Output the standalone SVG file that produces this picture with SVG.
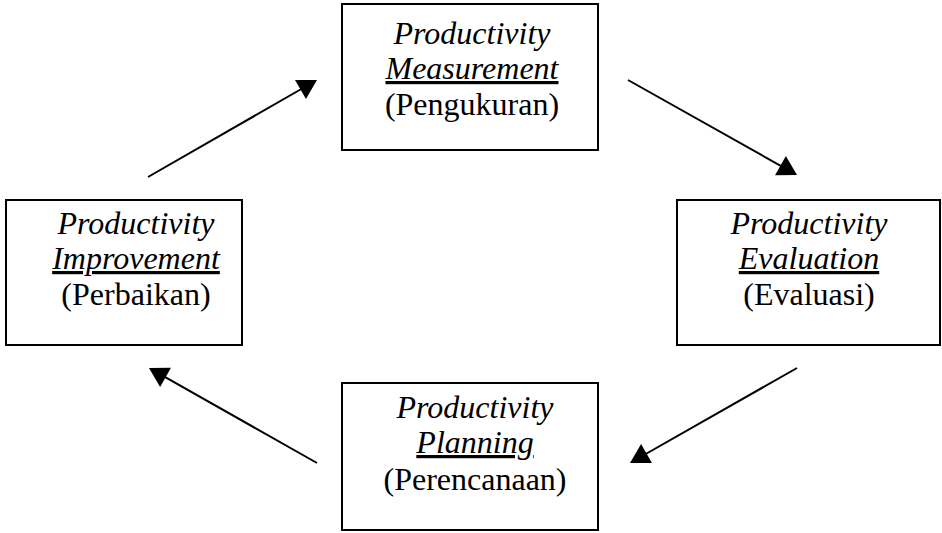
<svg xmlns="http://www.w3.org/2000/svg" width="942" height="533" viewBox="0 0 942 533">
<style>
.box{fill:#fff;stroke:#000;stroke-width:2}
.t{font-family:"Liberation Serif","Times New Roman",serif;font-size:32px;fill:#000;text-anchor:middle}
.i{font-style:italic}
.u{font-style:italic;text-decoration:underline}
.c{stroke:#000;stroke-width:2;fill:none}
</style>
<defs>
<marker id="ah" markerUnits="userSpaceOnUse" markerWidth="40" markerHeight="40" refX="0" refY="0" orient="auto" overflow="visible">
<path d="M10,0 L-9,-11 L-9,11 Z" fill="#000"/>
</marker>
</defs>
<rect width="942" height="533" fill="#fff"/>
<g id="measurement">
<rect class="box" x="342" y="4" width="256" height="146"/>
<text class="t i" x="472" y="44">Productivity</text>
<text class="t u" x="472" y="79">Measurement</text>
<text class="t" x="472" y="115">(Pengukuran)</text>
</g>
<g id="improvement">
<rect class="box" x="6" y="200" width="236" height="145"/>
<text class="t i" x="136" y="234">Productivity</text>
<text class="t u" x="136" y="269">Improvement</text>
<text class="t" x="136" y="305">(Perbaikan)</text>
</g>
<g id="evaluation">
<rect class="box" x="677" y="200" width="263" height="145"/>
<text class="t i" x="809" y="234">Productivity</text>
<text class="t u" x="809" y="269">Evaluation</text>
<text class="t" x="809" y="305">(Evaluasi)</text>
</g>
<g id="planning">
<rect class="box" x="342" y="383" width="256" height="147"/>
<text class="t i" x="475" y="418">Productivity</text>
<text class="t u" x="475" y="453">Planning</text>
<text class="t" x="475" y="490">(Perencanaan)</text>
</g>
<g id="connectors">
<line class="c" x1="148" y1="177" x2="308.3" y2="85" marker-end="url(#ah)"/>
<line class="c" x1="628" y1="80" x2="788.3" y2="170.1" marker-end="url(#ah)"/>
<line class="c" x1="797" y1="368" x2="638.7" y2="458" marker-end="url(#ah)"/>
<line class="c" x1="317" y1="463" x2="157.7" y2="372.9" marker-end="url(#ah)"/>
</g>
</svg>
